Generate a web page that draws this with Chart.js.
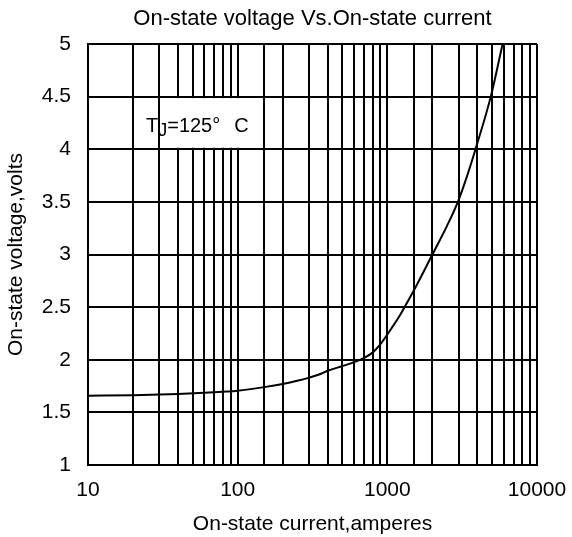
<!DOCTYPE html>
<html>
<head>
<meta charset="utf-8">
<script src="https://cdn.jsdelivr.net/npm/chart.js@4.4.0/dist/chart.umd.js"></script>
<style>
  html, body { margin: 0; padding: 0; background: #ffffff; }
  #wrap { width: 572px; height: 537px; }
</style>
</head>
<body>
<div id="wrap"><canvas id="vfChart" width="572" height="537"></canvas></div>
<script>
// On-state current (A) and voltage (V)
const currentAmps = [10, 20, 40, 60, 80, 100, 150, 200, 250, 300, 350, 400, 500, 600, 700, 800, 900, 1000, 1200, 1345, 1500, 2000, 2500, 2943, 3400, 3882, 4911, 5890];
const voltageVolts = [1.658, 1.663, 1.675, 1.686, 1.696, 1.706, 1.74, 1.77, 1.80, 1.83, 1.86, 1.895, 1.94, 1.977, 2.018, 2.07, 2.148, 2.24, 2.41, 2.535, 2.655, 3.0, 3.27, 3.49, 3.74, 4.0, 4.5, 5.0];
const xMajorTicks = [10, 100, 1000, 10000];
const yTicks = [1, 1.5, 2, 2.5, 3, 3.5, 4, 4.5, 5];

const FONT = "'Liberation Sans', Arial, sans-serif";

// T_J = 125 °C note, sits on a white patch that hides the grid behind it
const junctionLabel = {
    id: 'junctionLabel',
    geom(chart) {
        const { ctx, scales } = chart;
        const x = scales.x.getPixelForValue(24.4);
        const y = scales.y.getPixelForValue(4.16);
        ctx.save();
        ctx.font = '20px ' + FONT;
        const wT = ctx.measureText('T').width;
        const wEq = ctx.measureText('=125\u00B0').width;
        const wC = ctx.measureText('C').width;
        ctx.font = '18px ' + FONT;
        const wJ = ctx.measureText('J').width;
        ctx.restore();
        return { x, y, wT, wJ, wEq, wC };
    },
    beforeDatasetsDraw(chart) {
        const { ctx, scales } = chart;
        const g = this.geom(chart);
        const left = g.x + g.wT + g.wJ - 1;
        const right = left + g.wEq + 14 + g.wC + 3;
        const top = scales.y.getPixelForValue(4.5) + 1.5;
        const bottom = scales.y.getPixelForValue(4) - 1.5;
        ctx.save();
        ctx.fillStyle = '#fff';
        ctx.fillRect(left, top, right - left, bottom - top);
        ctx.restore();
    },
    afterDraw(chart) {
        const { ctx } = chart;
        const g = this.geom(chart);
        ctx.save();
        ctx.fillStyle = '#000';
        ctx.textBaseline = 'alphabetic';
        ctx.textAlign = 'left';
        ctx.font = '20px ' + FONT;
        ctx.fillText('T', g.x, g.y);
        ctx.font = '18px ' + FONT;
        ctx.fillText('J', g.x + g.wT, g.y + 4);
        ctx.font = '20px ' + FONT;
        const xe = g.x + g.wT + g.wJ;
        ctx.fillText('=125\u00B0', xe, g.y);
        ctx.fillText('C', xe + g.wEq + 14, g.y);
        ctx.restore();
    }
};

new Chart(document.getElementById('vfChart'), {
    type: 'line',
    data: {
        datasets: [{
            data: currentAmps.map((a, i) => ({ x: a, y: voltageVolts[i] })),
            borderColor: '#000',
            borderWidth: 2,
            pointRadius: 0,
            fill: false,
            cubicInterpolationMode: 'monotone'
        }]
    },
    options: {
        responsive: false,
        animation: false,
        layout: { padding: { left: 0, right: 35, top: 0, bottom: 0 } },
        plugins: {
            legend: { display: false },
            tooltip: { enabled: false },
            title: {
                display: true,
                fullSize: false,
                text: 'On-state voltage Vs.On-state current',
                color: '#000',
                font: { family: FONT, size: 22, weight: 'normal' },
                padding: { top: 6, bottom: 11.6 }
            }
        },
        scales: {
            x: {
                type: 'logarithmic',
                min: 10,
                max: 10000,
                border: { color: '#000', width: 2 },
                grid: { color: '#000', lineWidth: 2, drawTicks: false },
                ticks: {
                    autoSkip: false,
                    maxRotation: 0,
                    padding: 13,
                    color: '#000',
                    font: { family: FONT, size: 21 },
                    callback: v => xMajorTicks.includes(v) ? String(v) : ''
                },
                title: {
                    display: true,
                    text: 'On-state current,amperes',
                    color: '#000',
                    font: { family: FONT, size: 21 },
                    padding: { top: 4.4, bottom: 0 }
                },
                afterFit: s => {
                    s.height = 72;
                    s.paddingLeft = 0;
                    s.paddingRight = 0;
                }
            },
            y: {
                min: 1,
                max: 5,
                border: { color: '#000', width: 2 },
                grid: { color: '#000', lineWidth: 2, drawTicks: false },
                afterBuildTicks: s => { s.ticks = yTicks.map(v => ({ value: v })); },
                ticks: {
                    padding: 17,
                    color: '#000',
                    font: { family: FONT, size: 21 },
                    callback: v => String(v)
                },
                title: {
                    display: true,
                    text: 'On-state voltage,volts',
                    color: '#000',
                    font: { family: FONT, size: 21 },
                    padding: { top: 4, bottom: 0 }
                },
                afterFit: s => {
                    s.width = 88;
                    s.paddingTop = 0;
                    s.paddingBottom = 0;
                }
            }
        }
    },
    plugins: [junctionLabel]
});
</script>
</body>
</html>
